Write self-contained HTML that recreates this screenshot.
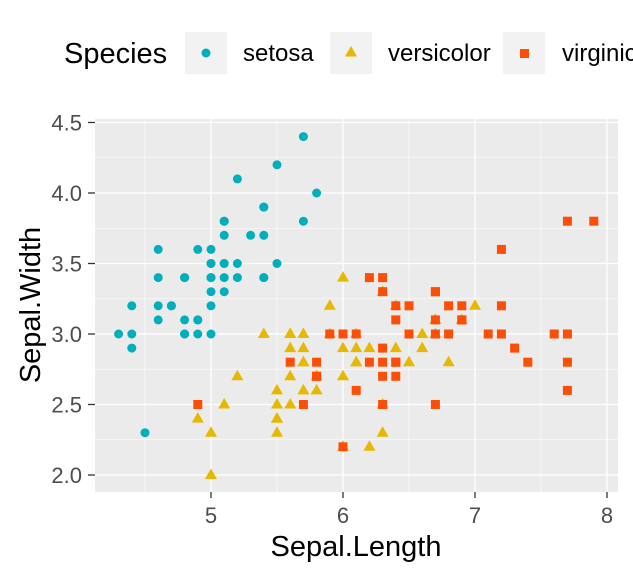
<!DOCTYPE html>
<html><head><meta charset="utf-8"><style>
html,body{margin:0;padding:0;background:#fff;overflow:hidden}
svg{display:block;font-family:"Liberation Sans",Arial,sans-serif}
</style></head><body>
<svg id="chart" width="633" height="576" viewBox="0 0 633 576">
<g>
<text x="64" y="63" font-size="29" fill="#000">Species</text>
<g>
<rect x="185" y="32" width="42" height="42" fill="#F2F2F2"/><circle cx="206" cy="53" r="4.5" fill="#00AFBB"/>
<text x="243" y="61" font-size="24" fill="#000">setosa</text></g>
<g>
<rect x="330" y="32" width="42" height="42" fill="#F2F2F2"/><polygon points="351,46 357,56.5 345,56.5" fill="#E7B800"/>
<text x="388" y="61" font-size="24" fill="#000">versicolor</text></g>
<g>
<rect x="503" y="32" width="42" height="42" fill="#F2F2F2"/><rect x="520" y="49" width="9" height="9" fill="#FC4E07"/>
<text x="562" y="61" font-size="24" fill="#000">virginica</text></g>
</g>
<rect x="95" y="119" width="523" height="373" fill="#EBEBEB"/>
<g id="grid"></g>
<g id="axes"></g>
<g id="points"></g>
<text x="356" y="556" font-size="29" text-anchor="middle" fill="#000">Sepal.Length</text>
<text transform="translate(40,305) rotate(-90)" font-size="29" text-anchor="middle" fill="#000">Sepal.Width</text>
</svg>
<script>
const setosaLength=[5.1,4.9,4.7,4.6,5.0,5.4,4.6,5.0,4.4,4.9,5.4,4.8,4.8,4.3,5.8,5.7,5.4,5.1,5.7,5.1,5.4,5.1,4.6,5.1,4.8,5.0,5.0,5.2,5.2,4.7,4.8,5.4,5.2,5.5,4.9,5.0,5.5,4.9,4.4,5.1,5.0,4.5,4.4,5.0,5.1,4.8,5.1,4.6,5.3,5.0];
const setosaWidth=[3.5,3.0,3.2,3.1,3.6,3.9,3.4,3.4,2.9,3.1,3.7,3.4,3.0,3.0,4.0,4.4,3.9,3.5,3.8,3.8,3.4,3.7,3.6,3.3,3.4,3.0,3.4,3.5,3.4,3.2,3.1,3.4,4.1,4.2,3.1,3.2,3.5,3.6,3.0,3.4,3.5,2.3,3.2,3.5,3.8,3.0,3.8,3.2,3.7,3.3];
const versicolorLength=[7.0,6.4,6.9,5.5,6.5,5.7,6.3,4.9,6.6,5.2,5.0,5.9,6.0,6.1,5.6,6.7,5.6,5.8,6.2,5.6,5.9,6.1,6.3,6.1,6.4,6.6,6.8,6.7,6.0,5.7,5.5,5.5,5.8,6.0,5.4,6.0,6.7,6.3,5.6,5.5,5.5,6.1,5.8,5.0,5.6,5.7,5.7,6.2,5.1,5.7];
const versicolorWidth=[3.2,3.2,3.1,2.3,2.8,2.8,3.3,2.4,2.9,2.7,2.0,3.0,2.2,2.9,2.9,3.1,3.0,2.7,2.2,2.5,3.2,2.8,2.5,2.8,2.9,3.0,2.8,3.0,2.9,2.6,2.4,2.4,2.7,2.7,3.0,3.4,3.1,2.3,3.0,2.5,2.6,3.0,2.6,2.3,2.7,3.0,2.9,2.9,2.5,2.8];
const virginicaLength=[6.3,5.8,7.1,6.3,6.5,7.6,4.9,7.3,6.7,7.2,6.5,6.4,6.8,5.7,5.8,6.4,6.5,7.7,7.7,6.0,6.9,5.6,7.7,6.3,6.7,7.2,6.2,6.1,6.4,7.2,7.4,7.9,6.4,6.3,6.1,7.7,6.3,6.4,6.0,6.9,6.7,6.9,5.8,6.8,6.7,6.7,6.3,6.5,6.2,5.9];
const virginicaWidth=[3.3,2.7,3.0,2.9,3.0,3.0,2.5,2.9,2.5,3.6,3.2,2.7,3.0,2.5,2.8,3.2,3.0,3.8,2.6,2.2,3.2,2.8,2.8,2.7,3.3,3.2,2.8,3.0,2.8,3.0,2.8,3.8,2.8,2.8,2.6,3.0,3.4,3.1,3.0,3.1,3.1,3.1,2.7,3.2,3.3,3.0,2.5,3.0,3.4,3.0];
const xTicks=[5,6,7,8];
const yTicks=[2.0,2.5,3.0,3.5,4.0,4.5];
const xTickLabels=["5","6","7","8"];
const yTickLabels=["2.0","2.5","3.0","3.5","4.0","4.5"];

const NS="http://www.w3.org/2000/svg";
const L=95,R=618,T=119,B=492;
function sx(v){return 211+(v-5)*132;}
function sy(v){return 475-(v-2)*141;}
function mk(tag,attrs,parent){const e=document.createElementNS(NS,tag);for(const k in attrs)e.setAttribute(k,attrs[k]);parent.appendChild(e);return e;}
const grid=document.getElementById('grid'),axes=document.getElementById('axes'),pts=document.getElementById('points');
for(let v=4.5;v<=8.5;v+=1){const x=sx(v);if(x>L&&x<R){const l=mk('line',{x1:x,x2:x,y1:T,y2:B,stroke:'#fff','stroke-width':0.6},grid);

}}
for(let v=1.75;v<=4.75;v+=0.5){const y=sy(v);if(y>T&&y<B){const l=mk('line',{x1:L,x2:R,y1:y,y2:y,stroke:'#fff','stroke-width':0.6},grid);

}}
xTicks.forEach((v,i)=>{const x=sx(v);
const l=mk('line',{x1:x,x2:x,y1:T,y2:B,stroke:'#fff','stroke-width':1.3},grid);


const t=mk('line',{x1:x,x2:x,y1:B,y2:B+6,stroke:'#333','stroke-width':1.3},axes);


const tx=mk('text',{x:x,y:B+31,'font-size':22,'text-anchor':'middle',fill:'#4D4D4D'},axes);tx.textContent=xTickLabels[i];

});
yTicks.forEach((v,i)=>{const y=sy(v);
const l=mk('line',{x1:L,x2:R,y1:y,y2:y,stroke:'#fff','stroke-width':1.3},grid);


const t=mk('line',{x1:L-7,x2:L,y1:y,y2:y,stroke:'#333','stroke-width':1.3},axes);


const tx=mk('text',{x:L-13,y:y+8,'font-size':22,'text-anchor':'end',fill:'#4D4D4D'},axes);tx.textContent=yTickLabels[i];

});
setosaLength.forEach((v,i)=>{const c=mk('circle',{cx:sx(v),cy:sy(setosaWidth[i]),r:4.5,fill:'#00AFBB'},pts);

});
versicolorLength.forEach((v,i)=>{const x=sx(v),y=sy(versicolorWidth[i]);
const p=mk('polygon',{points:`${x},${y-6.5} ${x+6},${y+4} ${x-6},${y+4}`,fill:'#E7B800'},pts);

});
virginicaLength.forEach((v,i)=>{const x=sx(v),y=sy(virginicaWidth[i]);
const r=mk('rect',{x:x-4.5,y:y-4.5,width:9,height:9,fill:'#FC4E07'},pts);

});
</script>
</body></html>
